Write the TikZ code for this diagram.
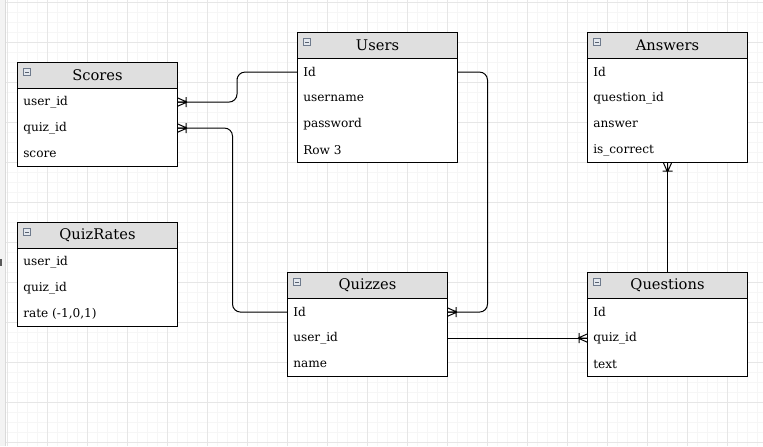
\documentclass[tikz,border=0pt]{standalone}
\usepackage{fontspec}
\setmainfont{DejaVu Serif}
\usetikzlibrary{calc}
\definecolor{hdrgray}{HTML}{DFDFDF}
\definecolor{minorgrid}{HTML}{F6F6F6}
\definecolor{majorgrid}{HTML}{E6E6E6}
\definecolor{stripfill}{HTML}{F3F3F3}
\definecolor{stripline}{HTML}{DADADA}
\definecolor{iconfill}{HTML}{E4E8EE}
\definecolor{iconborder}{HTML}{6E7A8C}
\tikzset{
  hdr/.style={draw=black, fill=hdrgray, minimum width=120pt, minimum height=19.5pt,
    anchor=north west, inner sep=0pt, line width=0.75pt, font=\fontsize{11}{13}\selectfont},
  tbody/.style={draw=black, fill=white, minimum width=120pt, anchor=north west,
    inner sep=0pt, line width=0.75pt},
  fld/.style={anchor=west, inner sep=0pt, yshift=-0.8pt, font=\fontsize{9.1}{11}\selectfont},
  icon/.style={draw=iconborder, fill=iconfill, minimum size=5.5pt, inner sep=0pt,
    anchor=north west, line width=0.5pt,
    path picture={\draw[iconborder!80!black, line width=0.6pt]
      ([xshift=1.3pt]path picture bounding box.west) --
      ([xshift=-1.3pt]path picture bounding box.east);}},
  conn/.style={draw=black, line width=0.75pt, rounded corners=6pt},
  crow/.pic={\draw[line width=0.75pt] (0,-4) -- (9,0) (0,4) -- (9,0) (0,0) -- (9,0)
     (8,-5) -- (8,5);}
}
\newcommand\hdrtext[1]{\raisebox{-0.8pt}{#1}}
\begin{document}
\begin{tikzpicture}[x=0.75pt, y=-0.75pt]
\useasboundingbox (0,0) rectangle (763,446);
% background grid
\fill[white] (0,0) rectangle (763,446);
\foreach \x in {7,17,...,757} \draw[minorgrid, line width=0.75pt] (\x,0) -- (\x,446);
\foreach \y in {2,12,...,442} \draw[minorgrid, line width=0.75pt] (6,\y) -- (763,\y);
\foreach \x in {7,47,...,727} \draw[majorgrid, line width=0.75pt] (\x,0) -- (\x,446);
\foreach \y in {2,42,...,442} \draw[majorgrid, line width=0.75pt] (6,\y) -- (763,\y);
\fill[stripfill] (0,0) rectangle (5,446);
\draw[stripline, line width=1pt] (5.5,0) -- (5.5,446);
\fill[gray!70!black] (0,259) rectangle (1.5,266);

% Scores
\node[tbody, minimum height=58.5pt] (sBody) at (17,88) {};
\node[hdr] (sHdr) at (17,62) {\hdrtext{Scores}};
\node[icon] (sIcon) at (23,68) {};
\node[fld] (sUser) at (23,101) {user\_id};
\node[fld] (sQuiz) at (23,127) {quiz\_id};
\node[fld] (sScore) at (23,153) {score};

% Users
\node[tbody, minimum height=78pt] (uBody) at (297,58) {};
\node[hdr] (uHdr) at (297,32) {\hdrtext{Users}};
\node[icon] (uIcon) at (303,38) {};
\node[fld] (uId) at (303,71) {Id};
\node[fld] (uName) at (303,97) {username};
\node[fld] (uPass) at (303,123) {password};
\node[fld] (uRow) at (303,149) {Row 3};

% Answers
\node[tbody, minimum height=78pt] (aBody) at (587,58) {};
\node[hdr] (aHdr) at (587,32) {\hdrtext{Answers}};
\node[icon] (aIcon) at (593,38) {};
\node[fld] (aId) at (593,71) {Id};
\node[fld] (aQ) at (593,97) {question\_id};
\node[fld] (aAns) at (593,123) {answer};
\node[fld] (aCor) at (593,149) {is\_correct};

% QuizRates
\node[tbody, minimum height=58.5pt] (rBody) at (17,248) {};
\node[hdr] (rHdr) at (17,222) {\hdrtext{QuizRates}};
\node[icon] (rIcon) at (23,228) {};
\node[fld] (rUser) at (23,261) {user\_id};
\node[fld] (rQuiz) at (23,287) {quiz\_id};
\node[fld] (rRate) at (23,313) {rate (-1,0,1)};

% Quizzes
\node[tbody, minimum height=58.5pt] (qzBody) at (287,298) {};
\node[hdr] (qzHdr) at (287,272) {\hdrtext{Quizzes}};
\node[icon] (qzIcon) at (293,278) {};
\node[fld] (qzId) at (293,311) {Id};
\node[fld] (qzUser) at (293,337) {user\_id};
\node[fld] (qzName) at (293,363) {name};

% Questions
\node[tbody, minimum height=58.5pt] (qsBody) at (587,298) {};
\node[hdr] (qsHdr) at (587,272) {\hdrtext{Questions}};
\node[icon] (qsIcon) at (593,278) {};
\node[fld] (qsId) at (593,311) {Id};
\node[fld] (qsQuiz) at (593,337) {quiz\_id};
\node[fld] (qsText) at (593,363) {text};

% connectors
\coordinate (c1) at (237,86);
\coordinate (c2) at (232.5,220);
\coordinate (c3) at (487.5,190);
\draw[conn] (uBody.west |- uId) -| (c1) |- (sBody.east |- sUser);
\draw[conn] (sBody.east |- sQuiz) -| (c2) |- (qzBody.west |- qzId);
\draw[conn] (uBody.east |- uId) -| (c3) |- (qzBody.east |- qzId);
\draw[conn] (qzBody.east |- qzUser) -- (qsBody.west |- qsQuiz);
\draw[conn] (aBody.south) -- (qsHdr.north);

% markers
\pic at (sBody.east |- sUser) {crow};
\pic at (sBody.east |- sQuiz) {crow};
\pic at (qzBody.east |- qzId) {crow};
\pic[rotate=180] at (qsBody.west |- qsQuiz) {crow};
\pic[rotate=-90] at (aBody.south) {crow};
\end{tikzpicture}
\end{document}
